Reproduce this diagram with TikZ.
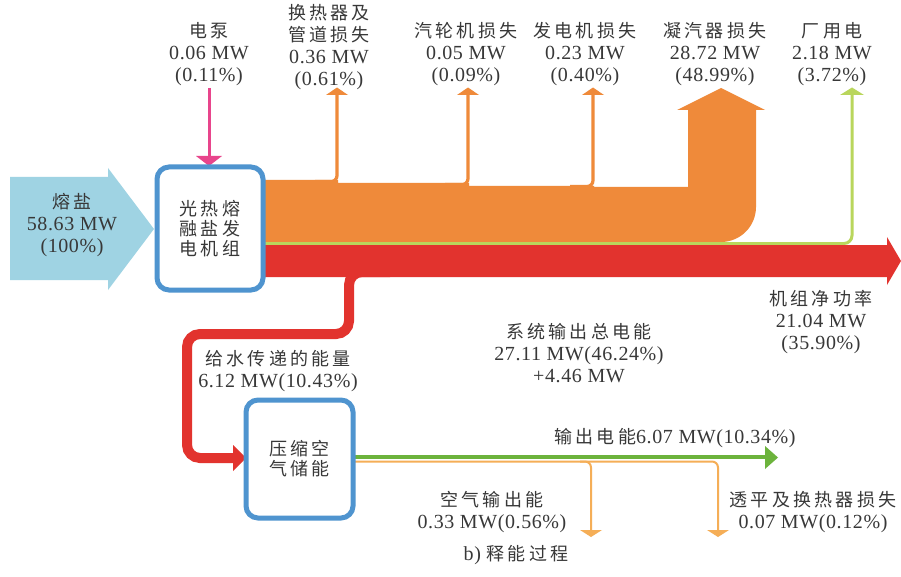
\documentclass[tikz,border=0pt]{standalone}
\usepackage{fontspec}
\setmainfont[LetterSpace=3]{Liberation Serif}
\newfontfamily\cjk[LetterSpace=18]{Noto Sans CJK SC}
\newcommand{\zh}[1]{{\cjk\fontsize{18}{22}\selectfont #1}}
\definecolor{saltblue}{HTML}{9FD3E3}
\definecolor{boxblue}{HTML}{4F94CF}
\definecolor{flowor}{HTML}{EF8A3A}
\definecolor{lightor}{HTML}{F5AE57}
\definecolor{flowred}{HTML}{E2332E}
\definecolor{ygreen}{HTML}{B9D65C}
\definecolor{flowgreen}{HTML}{6CB33C}
\definecolor{pumppink}{HTML}{E8458C}
\definecolor{txt}{HTML}{383838}
\begin{document}
\begin{tikzpicture}[x=1pt,y=-1pt,
  lbl/.style={text=txt, align=center, inner sep=0pt, font=\fontsize{20}{22}\selectfont},
  unitbox/.style={draw=boxblue, line width=5pt, fill=white, rounded corners=12pt, text=txt, align=center, inner sep=0pt, font=\cjk\fontsize{18}{20}\selectfont},
  thinor/.style={flowor, line width=3.2pt, rounded corners=6pt},
  lightbr/.style={lightor, line width=2pt, rounded corners=6pt}]
\useasboundingbox (0,0) rectangle (901,577);
\fill[white] (0,0) rectangle (901,577);

% input arrow
\fill[saltblue] (10,177) -- (108,177) -- (108,168) -- (154,229) -- (108,290) -- (108,280) -- (10,280) -- cycle;

% orange band with condenser arrow
\fill[flowor] (262,180) -- (338,180) -- (338,183) -- (469,183) -- (469,186) -- (594,186) -- (594,187) -- (688,187) -- (688,110) -- (677,110) -- (721,88) -- (765,110) -- (756,110) -- (756,207) .. controls (756,226.3) and (740.3,242) .. (721,242) -- (262,242) -- cycle;
% thin orange loss branches
\draw[thinor] (315,181.6) -- (337,181.6) -- (337,94);
\fill[flowor] (326,95) -- (337,87.5) -- (348,95) -- cycle;
\draw[thinor] (445,184.6) -- (468,184.6) -- (468,94);
\fill[flowor] (457,95) -- (468,87.5) -- (479,95) -- cycle;
\draw[thinor] (570,186.5) -- (593,186.5) -- (593,94);
\fill[flowor] (582,95) -- (593,87.5) -- (604,95) -- cycle;

% plant own use (yellow-green)
\draw[ygreen, line width=3pt, rounded corners=8pt] (262,243.5) -- (852,243.5) -- (852,94);
\fill[ygreen] (840,95) -- (852,87.5) -- (864,95) -- cycle;

% red net power band
\fill[flowred] (262,245) -- (887,245) -- (887,237) -- (901,261) -- (887,285) -- (887,277) -- (262,277) -- cycle;

% red feedwater branch
\draw[flowred, line width=10pt, rounded corners=13pt] (390,272) -- (349,272) -- (349,334) -- (187,334) -- (187,458) -- (234,458);
\fill[flowred] (233,445) -- (246,458) -- (233,471) -- cycle;

% green output and light orange losses
\draw[lightbr] (350,461.5) -- (591,461.5) -- (591,531);
\draw[lightbr] (580,461.5) -- (718,461.5) -- (718,531);
\fill[lightor] (580,530) -- (602,530) -- (591,537) -- cycle;
\fill[lightor] (707,530) -- (729,530) -- (718,537) -- cycle;
\draw[flowgreen, line width=4.5pt] (350,457) -- (766,457);
\fill[flowgreen] (765,446) -- (778,457.5) -- (765,469) -- cycle;

% pump arrow
\draw[pumppink, line width=3pt] (209,88) -- (209,158);
\fill[pumppink] (196,156) -- (222,156) -- (209,166) -- cycle;

% boxes
\node[unitbox, minimum width=106pt, minimum height=123pt] (gen) at (210,228.5) {光热熔\\融盐发\\电机组};
\node[unitbox, minimum width=107pt, minimum height=118pt] (caes) at (299.5,459) {压缩空\\气储能};

% labels
\node[lbl] (salt) at (72,225) {\zh{熔盐}\\58.63 MW\\(100\%)};
\node[lbl] (pump) at (209,54) {\zh{电泵}\\0.06 MW\\(0.11\%)};
\node[lbl] (hx) at (329,47.5) {\zh{换热器及}\\\zh{管道损失}\\0.36 MW\\(0.61\%)};
\node[lbl] (turb) at (466,54) {\zh{汽轮机损失}\\0.05 MW\\(0.09\%)};
\node[lbl] (genloss) at (585,54) {\zh{发电机损失}\\0.23 MW\\(0.40\%)};
\node[lbl] (cond) at (715,54) {\zh{凝汽器损失}\\28.72 MW\\(48.99\%)};
\node[lbl] (aux) at (832,54) {\zh{厂用电}\\2.18 MW\\(3.72\%)};
\node[lbl] (net) at (821,322) {\zh{机组净功率}\\21.04 MW\\(35.90\%)};
\node[lbl] (total) at (579,353) {\zh{系统输出总电能}\\27.11 MW(46.24\%)\\+4.46 MW};
\node[lbl] (feed) at (278,371) {\zh{给水传递的能量}\\6.12 MW(10.43\%)};
\node[lbl] (out) at (675,438) {\zh{输出电能}6.07 MW(10.34\%)};
\node[lbl] (air) at (492,512) {\zh{空气输出能}\\0.33 MW(0.56\%)};
\node[lbl] (turbloss) at (813,512) {\zh{透平及换热器损失}\\0.07 MW(0.12\%)};
\node[lbl] (cap) at (516,555) {b) \zh{释能过程}};
\end{tikzpicture}
\end{document}
